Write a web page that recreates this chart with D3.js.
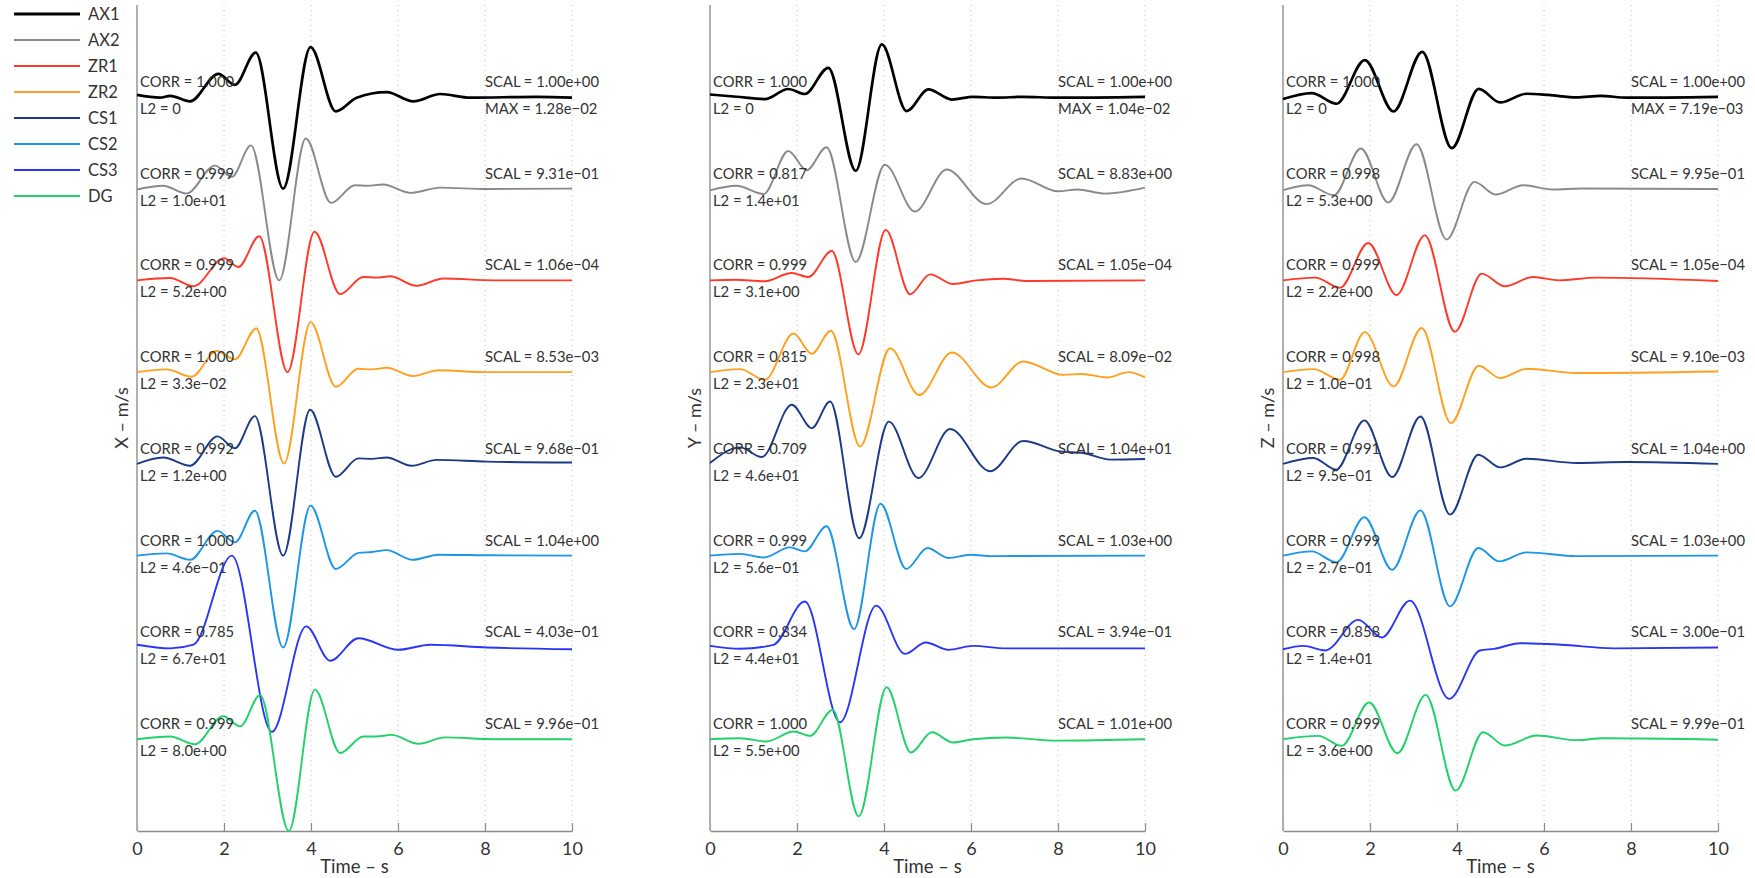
<!DOCTYPE html>
<html>
<head>
<meta charset="utf-8">
<script src="https://cdn.jsdelivr.net/npm/d3@7/dist/d3.min.js"></script>
<style>
  html, body { margin: 0; padding: 0; background: #fff; }
  svg text { font-family: Lato, "Open Sans", sans-serif; fill: #333; }
</style>
</head>
<body>
<svg id="chart" width="1755" height="878"></svg>
<script>
// Synthetic seismogram comparison: three velocity components, eight codes each.
// Each trace is given as [time (s), normalised amplitude] at its turning points.

const codes = ["AX1", "AX2", "ZR1", "ZR2", "CS1", "CS2", "CS3", "DG"];
const colors = ["#000000", "#8a8a8a", "#ff3a2a", "#ffa020", "#1c3a85", "#1e96e6", "#2a35f5", "#22d16a"];
const components = ["X – m/s", "Y – m/s", "Z – m/s"];
const xTicks = [0, 2, 4, 6, 8, 10];

// ---- X component ----
const X_AX1 = [[0,0.02],[0.53,-0.01],[0.76,0.01],[1.22,-0.05],[1.87,0.25],[2.25,0.13],[2.73,0.48],[3.36,-1.0],[3.99,0.54],[4.57,-0.16],[5.05,-0.01],[5.74,0.05],[6.35,-0.05],[6.97,0.03],[7.66,-0.01],[9.19,0.0],[10,-0.01]];
const X_AX2 = [[0,-0.01],[0.6,0.03],[1.14,-0.055],[1.79,0.25],[2.18,0.127],[2.62,0.47],[3.27,-1.0],[3.88,0.545],[4.46,-0.156],[5.01,0.036],[5.3,0.03],[5.66,0.044],[6.28,-0.047],[6.97,0.01],[8.04,-0.005],[10,0.0]];
const X_ZR1 = [[0,0.0],[0.76,0.025],[1.3,-0.065],[2.0,0.24],[2.33,0.145],[2.81,0.48],[3.46,-1.0],[4.08,0.53],[4.67,-0.15],[5.2,0.036],[5.5,0.03],[5.82,0.044],[6.43,-0.06],[7.04,0.02],[8.2,0.0],[10,0.0]];
const X_ZR2 = [[0,0.0],[0.68,0.03],[1.26,-0.05],[1.83,0.23],[2.25,0.14],[2.74,0.475],[3.38,-0.995],[3.99,0.545],[4.57,-0.16],[5.09,0.036],[5.4,0.03],[5.74,0.047],[6.34,-0.044],[6.93,0.02],[8.04,0.0],[10,0.0]];
const X_CS1 = [[0,0.0],[0.6,0.07],[1.22,-0.02],[1.85,0.3],[2.25,0.17],[2.71,0.52],[3.36,-1.0],[3.98,0.59],[4.57,-0.14],[5.09,0.06],[5.4,0.055],[5.74,0.07],[6.31,-0.02],[6.89,0.044],[8.04,0.025],[10,0.015]];
const X_CS2 = [[0,0.0],[0.68,0.025],[1.22,-0.045],[1.85,0.27],[2.25,0.145],[2.71,0.49],[3.36,-1.0],[3.99,0.545],[4.57,-0.145],[5.09,0.03],[5.4,0.04],[5.74,0.06],[6.34,-0.045],[6.93,0.01],[8.0,0.005],[10,0.0]];
const X_CS3 = [[0,0.03],[0.76,-0.01],[1.3,0.03],[2.18,1.0],[3.1,-0.92],[3.89,0.23],[4.44,-0.145],[5.09,0.1],[6.01,-0.025],[6.74,0.03],[8.04,0.0],[10,-0.02]];
const X_DG  = [[0,0.0],[0.76,0.03],[1.33,-0.055],[1.98,0.25],[2.37,0.14],[2.83,0.48],[3.49,-1.0],[4.09,0.54],[4.67,-0.15],[5.2,0.03],[5.5,0.03],[5.85,0.047],[6.47,-0.05],[7.08,0.02],[8.2,0.0],[10,0.0]];

// ---- Y component ----
const Y_AX1 = [[0,0.025],[0.61,0.0],[1.26,-0.025],[1.8,0.085],[2.18,0.03],[2.72,0.316],[3.35,-0.806],[3.95,0.57],[4.52,-0.156],[5.02,0.08],[5.56,-0.03],[6.05,0.0],[6.59,-0.01],[7.2,0.0],[7.97,-0.01],[10,0.0]];
const Y_AX2 = [[0,-0.02],[0.61,0.03],[1.23,-0.06],[1.8,0.41],[2.22,0.2],[2.68,0.45],[3.35,-0.8],[4.02,0.26],[4.71,-0.25],[5.44,0.207],[6.36,-0.17],[7.16,0.11],[8.0,-0.03],[8.45,-0.01],[9.08,-0.055],[10,0.01]];
const Y_ZR1 = [[0,0.0],[0.58,0.006],[1.26,-0.01],[1.88,0.08],[2.26,0.036],[2.8,0.32],[3.41,-0.806],[4.04,0.55],[4.6,-0.152],[5.06,0.065],[5.59,-0.04],[6.13,0.0],[6.74,0.018],[7.3,-0.007],[10,0.0]];
const Y_ZR2 = [[0,0.0],[0.69,0.033],[1.26,-0.084],[1.92,0.42],[2.34,0.2],[2.78,0.45],[3.45,-0.81],[4.14,0.26],[4.81,-0.25],[5.56,0.214],[6.47,-0.167],[7.2,0.116],[8.12,-0.03],[8.55,-0.02],[9.12,-0.058],[9.62,0.0],[10,-0.058]];
const Y_CS1 = [[0,0.01],[0.69,0.18],[1.19,0.075],[1.88,0.645],[2.34,0.39],[2.76,0.68],[3.43,-0.81],[4.11,0.46],[4.79,-0.154],[5.52,0.38],[6.44,-0.08],[7.2,0.25],[8.05,0.136],[8.58,0.118],[9.2,0.046],[10,0.053]];
const Y_CS2 = [[0,0.0],[0.69,0.02],[1.23,-0.02],[1.84,0.09],[2.18,0.047],[2.68,0.32],[3.31,-0.8],[3.92,0.566],[4.51,-0.145],[5.0,0.083],[5.48,-0.025],[5.98,0.01],[6.5,-0.005],[10,0.0]];
const Y_CS3 = [[0,0.017],[0.69,-0.015],[1.46,0.028],[2.18,0.5],[2.99,-0.815],[3.82,0.456],[4.48,-0.07],[4.96,0.054],[5.48,-0.026],[6.05,0.017],[6.8,-0.01],[10,-0.01]];
const Y_DG  = [[0,0.0],[0.69,0.01],[1.3,-0.025],[1.92,0.084],[2.3,0.036],[2.82,0.32],[3.42,-0.84],[4.06,0.566],[4.62,-0.145],[5.1,0.076],[5.59,-0.036],[6.05,0.0],[6.8,0.018],[8.0,-0.015],[10,0.0]];

// ---- Z component ----
const Z_AX1 = [[0,-0.025],[0.66,0.04],[1.23,-0.076],[1.88,0.4],[2.54,-0.16],[3.2,0.49],[3.88,-0.56],[4.5,0.087],[4.99,-0.062],[5.6,0.033],[6.1,0.02],[6.75,-0.007],[7.3,0.01],[7.9,-0.01],[10,0.0]];
const Z_AX2 = [[0,-0.018],[0.58,0.036],[1.17,-0.073],[1.79,0.436],[2.42,-0.152],[3.07,0.483],[3.76,-0.555],[4.4,0.073],[4.89,-0.065],[5.52,0.036],[6.2,-0.01],[6.9,0.0],[10,-0.005]];
const Z_ZR1 = [[0,0.0],[0.74,0.03],[1.31,-0.08],[1.96,0.407],[2.61,-0.16],[3.26,0.49],[3.95,-0.56],[4.57,0.073],[5.1,-0.065],[5.75,0.036],[6.35,0.0],[7.2,0.03],[10,-0.007]];
const Z_ZR2 = [[0,0.0],[0.7,0.033],[1.31,-0.083],[1.88,0.436],[2.54,-0.156],[3.19,0.48],[3.86,-0.556],[4.5,0.07],[4.99,-0.065],[5.6,0.036],[6.75,-0.01],[10,0.007]];
const Z_CS1 = [[0,0.0],[0.7,0.064],[1.22,-0.063],[1.87,0.474],[2.51,-0.143],[3.16,0.517],[3.84,-0.553],[4.49,0.1],[4.99,-0.038],[5.6,0.056],[6.75,0.01],[7.9,0.02],[10,0.0]];
const Z_CS2 = [[0,0.0],[0.66,0.047],[1.23,-0.073],[1.87,0.418],[2.51,-0.153],[3.16,0.494],[3.84,-0.552],[4.49,0.083],[4.97,-0.062],[5.6,0.036],[6.75,-0.005],[10,0.0]];
const Z_CS3 = [[0,-0.02],[0.47,0.017],[0.97,-0.033],[1.73,0.3],[2.27,0.108],[2.92,0.51],[3.82,-0.56],[4.53,-0.033],[4.85,-0.015],[5.45,0.046],[6.4,0.03],[7.6,-0.01],[10,0.0]];
const Z_DG  = [[0,0.0],[0.81,0.036],[1.35,-0.073],[1.98,0.4],[2.63,-0.153],[3.28,0.483],[3.97,-0.56],[4.6,0.076],[5.1,-0.069],[5.83,0.04],[6.75,-0.01],[7.35,0.01],[10,-0.005]];

// Misfit annotations
const corrX = ["1.000", "0.999", "0.999", "1.000", "0.992", "1.000", "0.785", "0.999"];
const l2X   = ["0", "1.0e+01", "5.2e+00", "3.3e−02", "1.2e+00", "4.6e−01", "6.7e+01", "8.0e+00"];
const scalX = ["1.00e+00", "9.31e−01", "1.06e−04", "8.53e−03", "9.68e−01", "1.04e+00", "4.03e−01", "9.96e−01"];
const corrY = ["1.000", "0.817", "0.999", "0.815", "0.709", "0.999", "0.834", "1.000"];
const l2Y   = ["0", "1.4e+01", "3.1e+00", "2.3e+01", "4.6e+01", "5.6e−01", "4.4e+01", "5.5e+00"];
const scalY = ["1.00e+00", "8.83e+00", "1.05e−04", "8.09e−02", "1.04e+01", "1.03e+00", "3.94e−01", "1.01e+00"];
const corrZ = ["1.000", "0.998", "0.999", "0.998", "0.991", "0.999", "0.858", "0.999"];
const l2Z   = ["0", "5.3e+00", "2.2e+00", "1.0e−01", "9.5e−01", "2.7e−01", "1.4e+01", "3.6e+00"];
const scalZ = ["1.00e+00", "9.95e−01", "1.05e−04", "9.10e−03", "1.04e+00", "1.03e+00", "3.00e−01", "9.99e−01"];
const maxVals = ["1.28e−02", "1.04e−02", "7.19e−03"];

const panels = [
  { label: components[0], traces: [X_AX1, X_AX2, X_ZR1, X_ZR2, X_CS1, X_CS2, X_CS3, X_DG], corr: corrX, l2: l2X, scal: scalX, max: maxVals[0] },
  { label: components[1], traces: [Y_AX1, Y_AX2, Y_ZR1, Y_ZR2, Y_CS1, Y_CS2, Y_CS3, Y_DG], corr: corrY, l2: l2Y, scal: scalY, max: maxVals[1] },
  { label: components[2], traces: [Z_AX1, Z_AX2, Z_ZR1, Z_ZR2, Z_CS1, Z_CS2, Z_CS3, Z_DG], corr: corrZ, l2: l2Z, scal: scalZ, max: maxVals[2] }
];

const svg = d3.select("#chart");
const panelLeft = [137, 710, 1283];
const panelWidth = 435;
const plotTop = 5, plotBottom = 831;

// Vertical scale: trace i sits on baseline -i, one unit per trace spacing.
const y = d3.scaleLinear().domain([-8, 1]).range([plotBottom, plotTop]);

panels.forEach((p, k) => {
  const x = d3.scaleLinear().domain([0, 10]).range([panelLeft[k], panelLeft[k] + panelWidth]);
  const g = svg.append("g");

  // dotted vertical grid
  g.selectAll("line.grid").data(xTicks.filter(d => d > 0)).enter().append("line")
    .attr("x1", d => x(d)).attr("x2", d => x(d))
    .attr("y1", plotTop).attr("y2", plotBottom)
    .attr("stroke", "#bdbdbd").attr("stroke-width", 1)
    .attr("stroke-dasharray", "1,4");

  // x axis with inward ticks
  const xAxis = d3.axisBottom(x).tickValues(xTicks).tickSizeInner(-8).tickSizeOuter(0).tickPadding(11);
  const ax = g.append("g").attr("transform", `translate(0,${plotBottom})`).call(xAxis);
  ax.select(".domain").attr("stroke", "#8c8c8c").attr("stroke-width", 1.5);
  ax.selectAll(".tick line").attr("stroke", "#8c8c8c").attr("stroke-width", 1.2);
  ax.selectAll(".tick text").style("font-family", "Lato, sans-serif").style("font-size", "18px").attr("fill", "#222");

  // y axis line
  g.append("line").attr("x1", x(0)).attr("x2", x(0)).attr("y1", plotTop).attr("y2", plotBottom)
    .attr("stroke", "#b0b0b0").attr("stroke-width", 2);

  // axis titles
  g.append("text").attr("x", (x(0) + x(10)) / 2).attr("y", 873)
    .attr("text-anchor", "middle").style("font-size", "18.5px").attr("fill", "#222").text("Time – s");
  g.append("text").attr("transform", `translate(${x(0) - 9},${(plotTop + plotBottom) / 2}) rotate(-90)`)
    .attr("text-anchor", "middle").style("font-size", "18px").attr("fill", "#222").text(p.label);

  // traces
  p.traces.forEach((tr, i) => {
    const line = d3.line().x(d => x(d[0])).y(d => y(d[1] - i)).curve(d3.curveMonotoneX);
    g.append("path").datum(tr).attr("d", line)
      .attr("fill", "none").attr("stroke", colors[i])
      .attr("stroke-width", i === 0 ? 2.7 : 1.9)
      .attr("stroke-linejoin", "round");

    const base = y(-i);
    g.append("text").attr("x", x(0) + 3).attr("y", base - 10).style("font-size", "14.8px")
      .text("CORR = " + p.corr[i]);
    g.append("text").attr("x", x(0) + 3).attr("y", base + 17).style("font-size", "14.8px")
      .text("L2 = " + p.l2[i]);
    g.append("text").attr("x", x(8)).attr("y", base - 10).style("font-size", "14.8px")
      .text("SCAL = " + p.scal[i]);
    if (i === 0) {
      g.append("text").attr("x", x(8)).attr("y", base + 17).style("font-size", "14.8px")
        .text("MAX = " + p.max);
    }
  });
});

// legend
const legend = svg.append("g");
codes.forEach((c, i) => {
  const ly = 14 + i * 26;
  legend.append("line").attr("x1", 14).attr("x2", 80).attr("y1", ly).attr("y2", ly)
    .attr("stroke", colors[i]).attr("stroke-width", i === 0 ? 3 : 2);
  legend.append("text").attr("x", 88).attr("y", ly + 6).style("font-size", "16.5px").attr("fill", "#333").text(c);
});
</script>
</body>
</html>
